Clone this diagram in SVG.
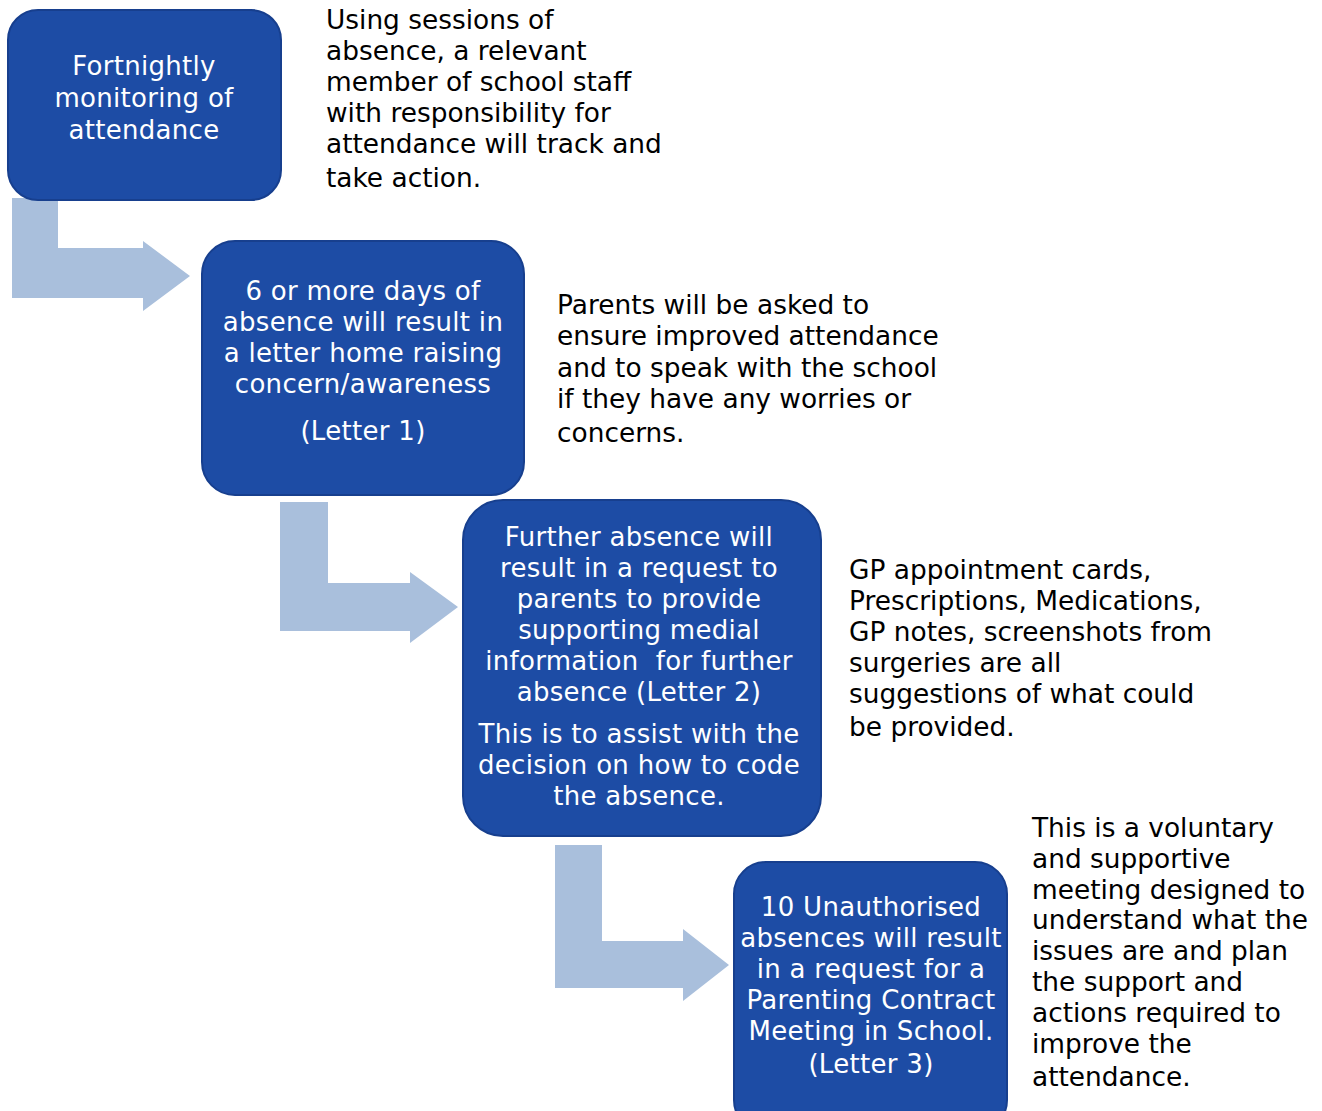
<svg xmlns="http://www.w3.org/2000/svg" width="1322" height="1111" viewBox="0 0 1322 1111">
<style>
.box{fill:#1d4ca5;stroke:#173f8e;stroke-width:2}
.arrow{fill:#a9bfdc}
.bt{font-family:"DejaVu Sans",sans-serif;font-size:26px;letter-spacing:0.3px;fill:#ffffff;text-anchor:middle}
.nt{font-family:"DejaVu Sans",sans-serif;font-size:26.4px;fill:#000000}
</style>
<rect width="1322" height="1111" fill="#ffffff"/>
<g id="connectors">
<path class="arrow" d="M12,198 L58,198 L58,248 L143,248 L143,241 L190,276 L143,311 L143,298 L12,298 Z"/>
<path class="arrow" d="M280,502 L328,502 L328,583 L410,583 L410,572 L458,607 L410,643 L410,631 L280,631 Z"/>
<path class="arrow" d="M555,845 L602,845 L602,941 L683,941 L683,929 L729,965 L683,1001 L683,988 L555,988 Z"/>
</g>
<g id="node1">
<rect class="box" x="8" y="10" width="273" height="190" rx="30"/>
<text class="bt" x="144" y="75">Fortnightly</text>
<text class="bt" x="144" y="107">monitoring of</text>
<text class="bt" x="144" y="139">attendance</text>
</g>
<g id="note1">
<text class="nt" x="326" y="29">Using sessions of</text>
<text class="nt" x="326" y="60">absence, a relevant</text>
<text class="nt" x="326" y="91">member of school staff</text>
<text class="nt" x="326" y="122">with responsibility for</text>
<text class="nt" x="326" y="153">attendance will track and</text>
<text class="nt" x="326" y="187">take action.</text>
</g>
<g id="node2">
<rect class="box" x="202" y="241" width="322" height="254" rx="33"/>
<text class="bt" x="363" y="300">6 or more days of</text>
<text class="bt" x="363" y="331">absence will result in</text>
<text class="bt" x="363" y="362">a letter home raising</text>
<text class="bt" x="363" y="393">concern/awareness</text>
<text class="bt" x="363" y="440">(Letter 1)</text>
</g>
<g id="note2">
<text class="nt" x="557" y="314">Parents will be asked to</text>
<text class="nt" x="557" y="345">ensure improved attendance</text>
<text class="nt" x="557" y="377">and to speak with the school</text>
<text class="nt" x="557" y="408">if they have any worries or</text>
<text class="nt" x="557" y="442">concerns.</text>
</g>
<g id="node3">
<rect class="box" x="463" y="500" width="358" height="336" rx="40"/>
<text class="bt" x="639" y="546">Further absence will</text>
<text class="bt" x="639" y="577">result in a request to</text>
<text class="bt" x="639" y="608">parents to provide</text>
<text class="bt" x="639" y="639">supporting medial</text>
<text class="bt" x="639" y="670" style="white-space:pre">information  for further</text>
<text class="bt" x="639" y="701">absence (Letter 2)</text>
<text class="bt" x="639" y="743">This is to assist with the</text>
<text class="bt" x="639" y="774">decision on how to code</text>
<text class="bt" x="639" y="805">the absence.</text>
</g>
<g id="note3">
<text class="nt" x="849" y="579">GP appointment cards,</text>
<text class="nt" x="849" y="610">Prescriptions, Medications,</text>
<text class="nt" x="849" y="641">GP notes, screenshots from</text>
<text class="nt" x="849" y="672">surgeries are all</text>
<text class="nt" x="849" y="703">suggestions of what could</text>
<text class="nt" x="849" y="736">be provided.</text>
</g>
<g id="node4">
<rect class="box" x="734" y="862" width="273" height="270" rx="32"/>
<text class="bt" x="871" y="916">10 Unauthorised</text>
<text class="bt" x="871" y="947">absences will result</text>
<text class="bt" x="871" y="978">in a request for a</text>
<text class="bt" x="871" y="1009">Parenting Contract</text>
<text class="bt" x="871" y="1040">Meeting in School.</text>
<text class="bt" x="871" y="1073">(Letter 3)</text>
</g>
<g id="note4">
<text class="nt" x="1032" y="837">This is a voluntary</text>
<text class="nt" x="1032" y="868">and supportive</text>
<text class="nt" x="1032" y="899">meeting designed to</text>
<text class="nt" x="1032" y="929">understand what the</text>
<text class="nt" x="1032" y="960">issues are and plan</text>
<text class="nt" x="1032" y="991">the support and</text>
<text class="nt" x="1032" y="1022">actions required to</text>
<text class="nt" x="1032" y="1053">improve the</text>
<text class="nt" x="1032" y="1086">attendance.</text>
</g>
</svg>
